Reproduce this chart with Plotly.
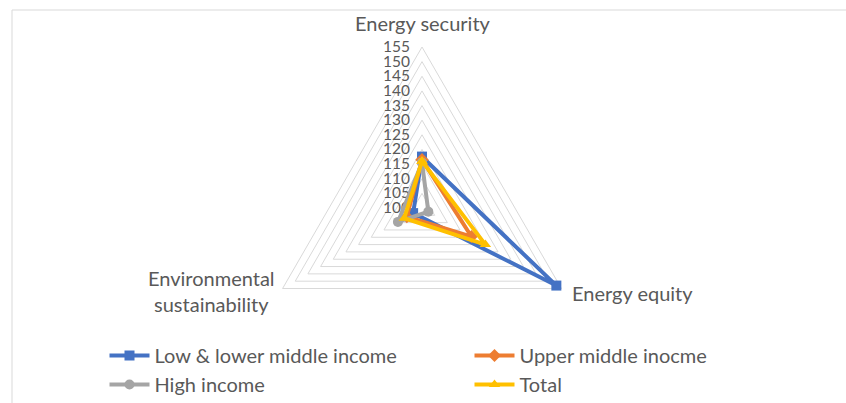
import plotly.graph_objects as go

# Energy trilemma index by income group
categories = ["Energy security", "Energy equity", "Environmental sustainability"]
series_names = ["Low & lower middle income", "Upper middle inocme", "High income", "Total"]
low_lower_middle = [117.5, 153.0, 103.5]
upper_middle = [116.5, 119.5, 106.0]
high_income = [115.5, 102.5, 109.5]
total = [116.0, 125.0, 107.0]
radial_ticks = list(range(100, 160, 5))

W, H = 846, 403
colors = ["#4472C4", "#ED7D31", "#A5A5A5", "#FFC000"]
symbols = ["square", "diamond", "circle", "triangle-up"]
TXT = "#595959"
FONT = "Lato"

fig = go.Figure()
for name, vals, col, sym in zip(series_names,
                                [low_lower_middle, upper_middle, high_income, total],
                                colors, symbols):
    fig.add_trace(go.Scatterpolar(
        r=vals + vals[:1],
        theta=categories + categories[:1],
        mode="lines+markers",
        name=name,
        line=dict(color=col, width=4),
        marker=dict(symbol=sym, size=10, color=col),
        cliponaxis=False,
    ))

# polar area placed by its centre and outer radius (pixels)
cx, cy, R = 422, 208, 161
fig.update_layout(
    width=W, height=H,
    margin=dict(l=0, r=0, t=0, b=0, autoexpand=False),
    paper_bgcolor="white",
    font=dict(family=FONT, color=TXT),
    polar=dict(
        domain=dict(x=[(cx - R) / W, (cx + R) / W], y=[1 - (cy + R) / H, 1 - (cy - R) / H]),
        bgcolor="white",
        gridshape="linear",
        radialaxis=dict(
            range=[radial_ticks[0], radial_ticks[-1]],
            tickvals=radial_ticks,
            angle=90,
            side="counterclockwise",
            tickangle=90,
            showline=False,
            ticks="outside",
            ticklen=6,
            tickcolor="rgba(0,0,0,0)",
            gridcolor="#D9D9D9",
            gridwidth=1,
            layer="below traces",
            tickfont=dict(size=15.5, color=TXT, family=FONT),
        ),
        angularaxis=dict(
            rotation=90,
            direction="clockwise",
            showgrid=False,
            showline=True,
            linecolor="#D9D9D9",
            linewidth=1,
            layer="below traces",
            showticklabels=False,
            ticks="",
        ),
    ),
    showlegend=True,
    legend=dict(
        orientation="h",
        x=104.5 / W, xanchor="left",
        y=1 - 336 / H, yanchor="top",
        entrywidth=310, entrywidthmode="pixels",
        itemwidth=40,
        font=dict(size=20, color=TXT, family=FONT),
        tracegroupgap=0,
        bgcolor="rgba(0,0,0,0)",
    ),
)

# category labels around the outer triangle
label_pos = [
    (423, 23, "center"),
    (570, 293, "left"),
    (211, 291, "center"),
]
for cat, (x, y, anchor) in zip(categories, label_pos):
    txt = cat.replace(" sustainability", "<br>sustainability")
    fig.add_annotation(
        x=x / W, y=1 - y / H, xref="paper", yref="paper",
        text=txt, showarrow=False, xanchor=anchor, yanchor="middle", align="center",
        font=dict(size=20, color=TXT, family=FONT),
    )

# chart area frame
fig.add_shape(type="rect", xref="paper", yref="paper",
              x0=12 / W, x1=1.2, y0=-0.2, y1=1 - 10 / H,
              line=dict(color="#D9D9D9", width=1), fillcolor="rgba(0,0,0,0)", layer="below")

fig.write_html("out.html")
